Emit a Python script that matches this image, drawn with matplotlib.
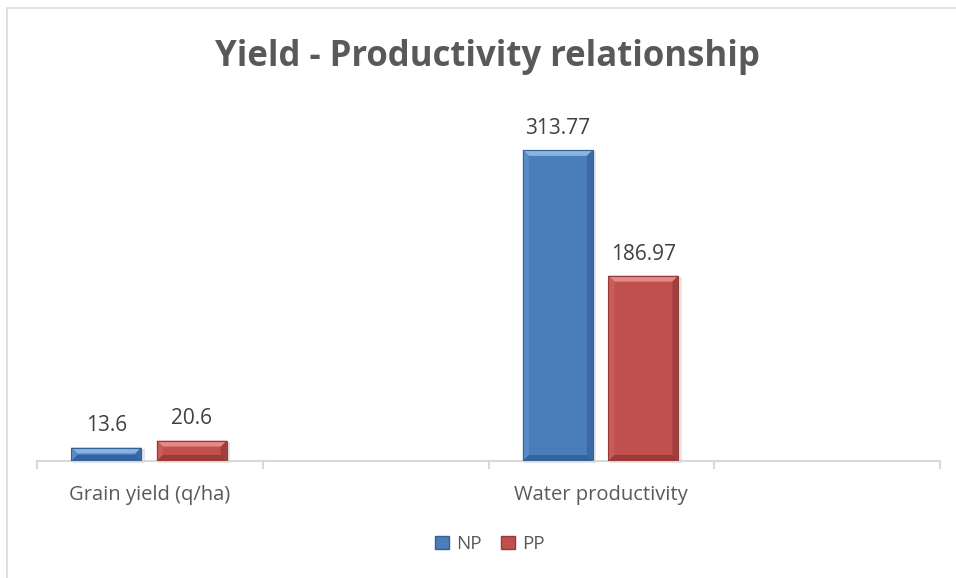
import matplotlib
matplotlib.use("Agg")
import matplotlib.pyplot as plt
from matplotlib.patches import Polygon, Rectangle

categories = ["Grain yield (q/ha)", "", "Water productivity", ""]
series_names = ["NP", "PP"]
np_values = [13.6, None, 313.77, None]
pp_values = [20.6, None, 186.97, None]
value_labels_np = ["13.6", None, "313.77", None]
value_labels_pp = ["20.6", None, "186.97", None]

plt.rcParams['font.family'] = ['Open Sans', 'DejaVu Sans']

W, H = 956, 578
fig = plt.figure(figsize=(W / 100, H / 100), dpi=100)
fig.patch.set_facecolor('white')

# outer chart border
fig.add_artist(Rectangle((7 / W, -0.1), 1.2, (H - 8) / H + 0.1, transform=fig.transFigure,
                         fill=False, edgecolor='#d9d9d9', linewidth=1.2))

left, right = 37 / W, 940 / W
bottom, top = (H - 461) / H, (H - 114) / H
ax = fig.add_axes([left, bottom, right - left, top - bottom])
ax.set_xlim(-0.5, len(categories) - 0.5)
ax.set_ylim(0, 350)
for s in ['top', 'right', 'left']:
    ax.spines[s].set_visible(False)
ax.spines['bottom'].set_color('#d9d9d9')
ax.spines['bottom'].set_linewidth(1.5)
ax.set_yticks([])
ax.set_xticks([-0.5, 0.5, 1.5, 2.5, 3.5], minor=False)
ax.set_xticklabels([])
ax.tick_params(axis='x', which='major', length=6, color='#d9d9d9', width=1.5)
ax.set_xticks(range(len(categories)), minor=True)
ax.set_xticklabels(categories, minor=True, fontsize=14.5, color='#595959')
ax.tick_params(axis='x', which='minor', length=0, pad=17)

# pixel scales
ax_w_px = (right - left) * W
ax_h_px = (top - bottom) * H
px_x = (len(categories)) / ax_w_px
px_y = 350 / ax_h_px

bar_w = 70 * px_x
offsets = [-43.5 * px_x, 42 * px_x]

styles = {
    "NP": dict(main='#4a7ebb', top='#8ab2e3', left='#5a8bc8', right='#3a69a6', bottom='#3464a0', edge='#365f92'),
    "PP": dict(main='#c0504d', top='#e38a87', left='#c95c59', right='#a23e3b', bottom='#9c3a37', edge='#923b38'),
}


def bevel_bar(xc, h, st):
    x0, x1 = xc - bar_w / 2, xc + bar_w / 2
    bx = 6 * px_x
    by = 6 * px_y
    by_eff = min(by, h / 2)
    bx_eff = bx
    # shadow
    ax.add_patch(Rectangle((x0 + 1.5 * px_x, -2 * px_y), bar_w + 2 * px_x, h + 1 * px_y,
                           facecolor='#000000', alpha=0.10, edgecolor='none', zorder=1, clip_on=False))
    ax.add_patch(Rectangle((x0, 0), bar_w, h, facecolor=st['main'], edgecolor='none', zorder=2))
    # bevels
    ax.add_patch(Polygon([(x0, h), (x1, h), (x1 - bx_eff, h - by_eff), (x0 + bx_eff, h - by_eff)],
                         closed=True, facecolor=st['top'], edgecolor='none', zorder=3))
    ax.add_patch(Polygon([(x0, 0), (x0, h), (x0 + bx_eff, h - by_eff), (x0 + bx_eff, by_eff)],
                         closed=True, facecolor=st['left'], edgecolor='none', zorder=3))
    ax.add_patch(Polygon([(x1, 0), (x1, h), (x1 - bx_eff, h - by_eff), (x1 - bx_eff, by_eff)],
                         closed=True, facecolor=st['right'], edgecolor='none', zorder=3))
    ax.add_patch(Polygon([(x0, 0), (x1, 0), (x1 - bx_eff, by_eff), (x0 + bx_eff, by_eff)],
                         closed=True, facecolor=st['bottom'], edgecolor='none', zorder=3))
    ax.add_patch(Rectangle((x0, 0), bar_w, h, facecolor='none', edgecolor=st['edge'],
                           linewidth=0.8, zorder=4))


for si, (name, vals, labs) in enumerate([("NP", np_values, value_labels_np),
                                         ("PP", pp_values, value_labels_pp)]):
    for ci, v in enumerate(vals):
        if v is None:
            continue
        xc = ci + offsets[si]
        bevel_bar(xc, v, styles[name])
        ax.annotate(labs[ci], (xc, v), xytext=(0, 8), textcoords='offset points',
                    ha='center', va='bottom', fontsize=15, color='#404040')

fig.text(487 / W, (H - 57) / H, "Yield - Productivity relationship", ha='center', va='center',
         fontsize=25, fontweight='bold', color='#595959')

handles = [Rectangle((0, 0), 1, 1, facecolor=styles[n]['main'], edgecolor=styles[n]['edge'])
           for n in series_names]
fig.legend(handles, series_names, loc='center', bbox_to_anchor=(490 / W, (H - 544) / H),
           ncol=2, frameon=False, fontsize=13.5, handlelength=0.75, handleheight=0.75,
           handletextpad=0.4, columnspacing=1.0, labelcolor='#595959')

fig.savefig("out.png", dpi=100)
